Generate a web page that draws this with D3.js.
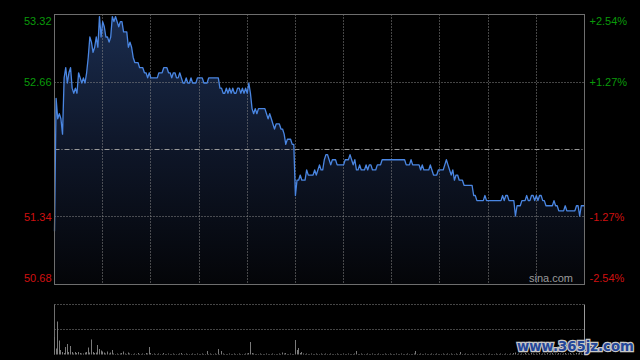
<!DOCTYPE html>
<html><head><meta charset="utf-8">
<script src="https://cdn.jsdelivr.net/npm/d3@7"></script>
<style>
html,body{margin:0;padding:0;background:#000;}
svg{display:block;}
</style></head>
<body>
<svg id="c" width="640" height="360"></svg>
<script>
// ---- data (HK-style intraday, 1-minute points, 331 minutes) ----
const prevClose = 52.00;
const priceTicks = [53.32, 52.66, 51.34, 50.68];
const minuteGridTicks = [30, 60, 90, 120, 150, 180, 210, 240, 270, 300];
const prices = [
51.20,52.50,52.30,52.35,52.30,52.15,52.70,52.80,52.65,52.75,
52.80,52.60,52.55,52.60,52.55,52.75,52.70,52.65,52.70,52.65,
52.75,52.90,53.10,53.05,52.95,53.00,53.10,53.00,53.30,53.10,
53.25,53.20,53.10,53.10,53.05,53.10,53.30,53.25,53.30,53.25,
53.20,53.25,53.25,53.15,53.15,53.15,53.00,53.05,53.00,52.90,
52.85,52.85,52.85,52.80,52.80,52.80,52.75,52.75,52.70,52.75,
52.70,52.70,52.70,52.70,52.70,52.75,52.75,52.75,52.80,52.80,
52.80,52.75,52.75,52.70,52.75,52.75,52.70,52.70,52.75,52.70,
52.65,52.65,52.70,52.65,52.65,52.70,52.65,52.65,52.65,52.70,
52.70,52.70,52.70,52.65,52.65,52.65,52.70,52.70,52.70,52.70,
52.70,52.70,52.70,52.60,52.60,52.55,52.55,52.60,52.55,52.60,
52.55,52.60,52.55,52.55,52.60,52.60,52.55,52.60,52.55,52.60,
52.55,52.65,52.55,52.40,52.35,52.40,52.35,52.40,52.40,52.40,
52.40,52.40,52.35,52.30,52.35,52.30,52.25,52.20,52.25,52.25,
52.25,52.20,52.20,52.15,52.05,52.10,52.10,52.10,52.05,52.05,
51.55,51.70,51.70,51.75,51.70,51.70,51.70,51.80,51.75,51.75,
51.75,51.75,51.80,51.75,51.80,51.85,51.80,51.80,51.90,51.95,
51.95,51.90,51.85,51.90,51.90,51.90,51.85,51.85,51.85,51.85,
51.85,51.90,51.90,51.90,51.95,51.90,51.85,51.90,51.80,51.80,
51.85,51.80,51.80,51.80,51.85,51.80,51.85,51.85,51.80,51.80,
51.80,51.85,51.85,51.85,51.90,51.90,51.90,51.90,51.90,51.90,
51.90,51.90,51.90,51.90,51.90,51.90,51.90,51.90,51.90,51.85,
51.85,51.85,51.90,51.85,51.85,51.85,51.85,51.85,51.80,51.85,
51.80,51.80,51.80,51.80,51.85,51.80,51.75,51.75,51.75,51.80,
51.80,51.80,51.80,51.85,51.90,51.85,51.80,51.75,51.80,51.70,
51.75,51.75,51.70,51.70,51.70,51.65,51.65,51.65,51.65,51.65,
51.65,51.55,51.55,51.50,51.50,51.50,51.50,51.50,51.55,51.50,
51.50,51.50,51.50,51.50,51.50,51.50,51.50,51.50,51.50,51.55,
51.50,51.55,51.55,51.50,51.50,51.50,51.50,51.35,51.45,51.45,
51.45,51.50,51.50,51.50,51.55,51.50,51.50,51.55,51.55,51.50,
51.55,51.50,51.55,51.55,51.50,51.50,51.45,51.45,51.45,51.45,
51.45,51.50,51.45,51.45,51.40,51.40,51.40,51.40,51.45,51.40,
51.40,51.40,51.40,51.40,51.40,51.45,51.45,51.35,51.45,51.45,51.45
];
const volumes = [
35,12,66,28,9,5,3,15,21,5,
17,5,2,5,3,5,3,2,2,4,
5,14,4,30,5,3,4,19,11,8,
6,4,2,6,2,4,9,2,1,2,
1,2,3,6,2,1,4,2,1,1,
2,1,3,1,1,2,1,3,2,15,
3,1,2,1,1,2,1,1,3,1,
1,2,1,1,2,1,1,1,2,3,
1,1,2,1,1,1,2,1,1,2,
1,1,2,1,1,7,1,2,1,1,
2,1,11,1,7,2,1,1,1,2,
1,1,2,1,1,2,1,1,1,2,
2,3,25,3,2,1,1,1,2,1,
1,1,2,1,1,1,2,1,1,1,
2,1,4,2,3,1,1,2,1,1,
29,9,13,3,5,2,1,2,1,1,
2,1,1,2,1,1,2,1,1,2,
1,1,2,1,1,1,2,1,1,1,
2,1,1,2,1,1,1,2,7,1,
1,2,1,1,1,2,1,1,2,1,
1,1,2,1,1,1,2,1,1,2,
1,1,1,2,1,1,2,1,1,1,
2,1,1,1,2,7,1,1,2,1,
1,2,1,1,1,2,1,1,2,1,
1,1,2,1,1,2,1,2,1,1,
2,1,1,5,1,1,2,1,1,1,
2,1,1,1,2,1,1,2,1,1,
1,2,1,1,1,2,1,1,2,1,
1,2,1,1,2,1,3,4,1,2,
1,2,1,3,1,2,1,3,2,1,
2,1,3,1,2,2,1,3,1,2,
3,1,2,1,3,2,1,2,3,1,
2,3,1,2,1,3,2,4,2,1,3
];
const volMax = 100;

// ---- layout ----
const L = 54.5, R = 584.5, T = 14.5, B = 284.5;
const VT = 304.5, VB = 354.5;
const svg = d3.select("#c");
svg.append("rect").attr("width",640).attr("height",360).attr("fill","#000");

const x = d3.scaleLinear().domain([0, 330]).range([L, R]);
const y = d3.scaleLinear().domain([50.68, 53.32]).range([B, T]);
const yv = d3.scaleLinear().domain([0, volMax]).range([VB, VT]);
const px = v => Math.round(v - 0.5) + 0.5;

const defs = svg.append("defs");
const grad = defs.append("linearGradient").attr("id","g")
  .attr("gradientUnits","userSpaceOnUse").attr("x1",0).attr("x2",0).attr("y1",T).attr("y2",B);
grad.append("stop").attr("offset","0%").attr("stop-color","#1a2c4e");
grad.append("stop").attr("offset","50%").attr("stop-color","#0e1628");
grad.append("stop").attr("offset","100%").attr("stop-color","#040508");

// area
const area = d3.area().x((d,i)=>x(i)).y0(B).y1(d=>y(d));
svg.append("path").datum(prices).attr("d",area).attr("fill","url(#g)");

// grid
const grid = svg.append("g").attr("stroke","#8a8a8a").attr("stroke-width",1).attr("stroke-dasharray","1,2").attr("fill","none");
minuteGridTicks.forEach(m=>{
  grid.append("line").attr("x1",px(x(m))).attr("x2",px(x(m))).attr("y1",T).attr("y2",B);
});
[52.66, 51.34].forEach(v=>{
  grid.append("line").attr("x1",L).attr("x2",R).attr("y1",px(y(v))).attr("y2",px(y(v)));
});
// previous close
svg.append("line").attr("x1",L).attr("x2",R).attr("y1",px(y(prevClose))).attr("y2",px(y(prevClose)))
  .attr("stroke","#9a9a9a").attr("stroke-dasharray","5,2,1,2");

// price line
const line = d3.line().x((d,i)=>x(i)).y(d=>y(d));
svg.append("path").datum(prices).attr("d",line).attr("fill","none")
  .attr("stroke","#4a86e2").attr("stroke-width",1.3).attr("stroke-linejoin","round");

// border
svg.append("rect").attr("x",L).attr("y",T).attr("width",R-L).attr("height",B-T)
  .attr("fill","none").attr("stroke","#6e6e6e");

// axes
const fmt = d3.format(".2f");
const axL = svg.append("g").attr("transform",`translate(${L},0)`)
  .call(d3.axisLeft(y).tickValues(priceTicks).tickSize(0).tickPadding(3).tickFormat(fmt));
const axR = svg.append("g").attr("transform",`translate(${R},0)`)
  .call(d3.axisRight(y).tickValues(priceTicks).tickSize(0).tickPadding(5)
    .tickFormat(v=>{const p=(v-prevClose)/prevClose*100; return (p>0?"+":"")+p.toFixed(2)+"%";}));
[axL, axR].forEach(ax=>{
  ax.select(".domain").remove();
  ax.selectAll("text").attr("font-family","'Liberation Sans', Arial, sans-serif").attr("font-size",11)
    .attr("fill",d=>d>prevClose?"#0a9a0a":"#d01010")
    .attr("dy",d=> d===53.32 ? "0.95em" : d===50.68 ? "-0.3em" : "0.35em");
});

// sina.com
svg.append("text").attr("x",573).attr("y",282).attr("text-anchor","end")
  .attr("font-family","'Liberation Sans', Arial, sans-serif").attr("font-size",11)
  .attr("fill","#9a9a9a").text("sina.com");

// volume panel
const vg = svg.append("g").attr("stroke","#8a8a8a").attr("stroke-dasharray","1,2");
[VT, px(yv(volMax/2))].forEach(v=>{
  vg.append("line").attr("x1",L).attr("x2",R).attr("y1",v).attr("y2",v);
});
svg.append("line").attr("x1",L).attr("x2",L).attr("y1",VT).attr("y2",VB).attr("stroke","#6e6e6e");
svg.append("line").attr("x1",R).attr("x2",R).attr("y1",VT).attr("y2",VB).attr("stroke","#9a9a9a");
svg.append("g").selectAll("rect").data(volumes).join("rect")
  .attr("x",(d,i)=>Math.round(x(i)-0.5)).attr("width",1)
  .attr("y",d=>yv(d)).attr("height",d=>VB-yv(d))
  .attr("fill","#7a7a7a");

// watermark
svg.append("text").attr("transform","translate(517,351) scale(0.95,1)")
  .attr("font-family","'DejaVu Sans', sans-serif").attr("font-weight","bold").attr("font-size",14)
  .attr("fill","#24479a").attr("stroke","#c8c8c8").attr("stroke-width",2.5)
  .attr("paint-order","stroke").text("www.365jz.com");
</script>
</body></html>
